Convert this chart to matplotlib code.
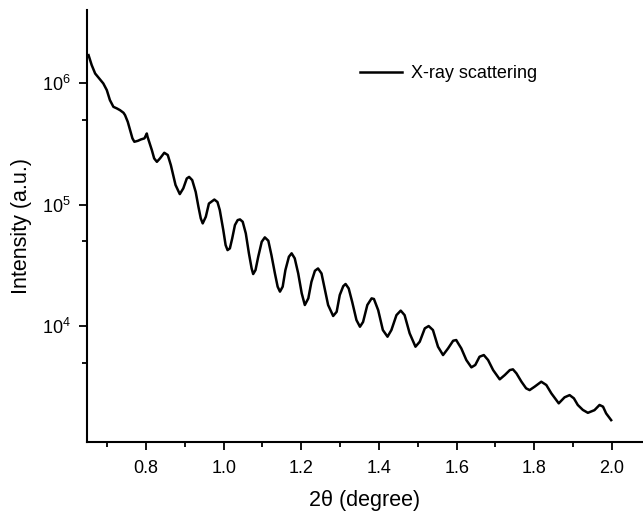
import matplotlib
matplotlib.use("Agg")
import matplotlib.pyplot as plt
from matplotlib.ticker import LogLocator, MultipleLocator, LogFormatterSciNotation

plt.rcParams['font.family'] = ['Liberation Sans', 'DejaVu Sans']
plt.rcParams['mathtext.fontset'] = 'custom'
plt.rcParams['mathtext.rm'] = 'Liberation Sans'
plt.rcParams['mathtext.it'] = 'Liberation Sans:italic'
plt.rcParams['mathtext.bf'] = 'Liberation Sans:bold'

two_theta = [0.652, 0.660, 0.669, 0.682, 0.690, 0.699, 0.707, 0.716, 0.725, 0.733,
             0.742, 0.746, 0.753, 0.759, 0.765, 0.770, 0.779, 0.787, 0.796, 0.802,
             0.804, 0.808, 0.815, 0.821, 0.828, 0.836, 0.847, 0.856, 0.864, 0.870,
             0.876, 0.887, 0.896, 0.905, 0.911, 0.919, 0.928, 0.935, 0.941, 0.946,
             0.954, 0.962, 0.976, 0.984, 0.990, 0.999, 1.005, 1.010, 1.016, 1.022,
             1.029, 1.036, 1.042, 1.049, 1.057, 1.065, 1.072, 1.076, 1.082, 1.089,
             1.098, 1.106, 1.115, 1.123, 1.132, 1.139, 1.145, 1.152, 1.159, 1.168,
             1.175, 1.183, 1.192, 1.201, 1.209, 1.218, 1.226, 1.235, 1.243, 1.252,
             1.261, 1.269, 1.282, 1.291, 1.299, 1.308, 1.314, 1.322, 1.331, 1.342,
             1.351, 1.359, 1.370, 1.381, 1.387, 1.398, 1.410, 1.422, 1.432, 1.445,
             1.456, 1.466, 1.479, 1.494, 1.505, 1.518, 1.528, 1.539, 1.552, 1.565,
             1.578, 1.591, 1.599, 1.603, 1.612, 1.625, 1.638, 1.648, 1.659, 1.670,
             1.681, 1.694, 1.711, 1.724, 1.737, 1.745, 1.754, 1.767, 1.779, 1.788,
             1.801, 1.818, 1.831, 1.844, 1.863, 1.878, 1.891, 1.902, 1.912, 1.925,
             1.938, 1.955, 1.968, 1.977, 1.985, 1.998]

intensity = [1.70e6, 1.41e6, 1.20e6, 1.07e6, 9.94e5, 8.76e5, 7.25e5, 6.38e5, 6.19e5, 5.99e5,
             5.70e5, 5.45e5, 4.80e5, 4.10e5, 3.51e5, 3.29e5, 3.35e5, 3.44e5, 3.51e5, 3.85e5,
             3.61e5, 3.29e5, 2.81e5, 2.40e5, 2.25e5, 2.40e5, 2.67e5, 2.56e5, 2.11e5, 1.75e5,
             1.45e5, 1.22e5, 1.36e5, 1.64e5, 1.69e5, 1.59e5, 1.27e5, 9.59e4, 7.70e4, 7.00e4,
             7.94e4, 1.02e5, 1.10e5, 1.05e5, 9.01e4, 6.17e4, 4.64e4, 4.22e4, 4.36e4, 5.27e4,
             6.78e4, 7.45e4, 7.55e4, 7.22e4, 5.79e4, 3.97e4, 2.98e4, 2.68e4, 2.89e4, 3.72e4,
             4.94e4, 5.37e4, 5.04e4, 3.84e4, 2.71e4, 2.11e4, 1.92e4, 2.11e4, 2.89e4, 3.72e4,
             3.97e4, 3.61e4, 2.71e4, 1.86e4, 1.49e4, 1.69e4, 2.31e4, 2.85e4, 2.98e4, 2.71e4,
             1.98e4, 1.49e4, 1.21e4, 1.31e4, 1.80e4, 2.13e4, 2.22e4, 2.04e4, 1.58e4, 1.12e4,
             9.87e3, 1.08e4, 1.49e4, 1.69e4, 1.67e4, 1.35e4, 9.27e3, 8.17e3, 9.27e3, 1.23e4,
             1.34e4, 1.23e4, 8.71e3, 6.76e3, 7.43e3, 9.57e3, 1.00e4, 9.27e3, 6.76e3, 5.77e3,
             6.55e3, 7.57e3, 7.67e3, 7.29e3, 6.55e3, 5.25e3, 4.57e3, 4.78e3, 5.59e3, 5.77e3,
             5.25e3, 4.34e3, 3.64e3, 3.95e3, 4.34e3, 4.40e3, 4.08e3, 3.48e3, 3.07e3, 2.97e3,
             3.17e3, 3.48e3, 3.27e3, 2.79e3, 2.31e3, 2.59e3, 2.70e3, 2.54e3, 2.24e3, 2.04e3,
             1.93e3, 2.03e3, 2.24e3, 2.17e3, 1.91e3, 1.68e3]

x_ticks = [0.8, 1.0, 1.2, 1.4, 1.6, 1.8, 2.0]
x_tick_labels = ["0.8", "1.0", "1.2", "1.4", "1.6", "1.8", "2.0"]
series_label = "X-ray scattering"

fig = plt.figure(figsize=(6.43, 5.12), dpi=100)
ax = fig.add_axes([87/643, 1 - 442/512, 1 - 87/643, (442 - 10)/512])

ax.plot(two_theta, intensity, color='black', lw=1.8, label=series_label,
        solid_joinstyle='round')
ax.set_yscale('log')
ax.set_xlim(0.648, 2.08)
ax.set_ylim(1110, 4.0e6)

ax.set_xticks(x_ticks)
ax.set_xticklabels(x_tick_labels)
ax.xaxis.set_minor_locator(MultipleLocator(0.1))
ax.yaxis.set_major_locator(LogLocator(base=10, numticks=10))
ax.yaxis.set_minor_locator(LogLocator(base=10, subs=[5.0], numticks=10))
ax.yaxis.set_major_formatter(LogFormatterSciNotation())
ax.yaxis.set_minor_formatter(plt.NullFormatter())

for s in ['top', 'right']:
    ax.spines[s].set_visible(False)
for s in ['left', 'bottom']:
    ax.spines[s].set_linewidth(1.5)

ax.tick_params(axis='x', which='major', direction='out', length=6, width=1.3,
               labelsize=13, pad=7)
ax.tick_params(axis='y', which='major', direction='out', length=6, width=1.3,
               labelsize=13, pad=6)
ax.tick_params(axis='both', which='minor', direction='out', length=3.5, width=1.3)

ax.set_xlabel("2θ (degree)", fontsize=15.5, labelpad=9)
ax.set_ylabel("Intensity (a.u.)", fontsize=15.5, labelpad=7)

ax.legend(loc='center left', bbox_to_anchor=(360/643, 1 - 74/512),
          bbox_transform=fig.transFigure, frameon=False, fontsize=13,
          handlelength=2.3, handletextpad=0.55, borderpad=0, borderaxespad=0)

fig.savefig("out.png", dpi=100)
